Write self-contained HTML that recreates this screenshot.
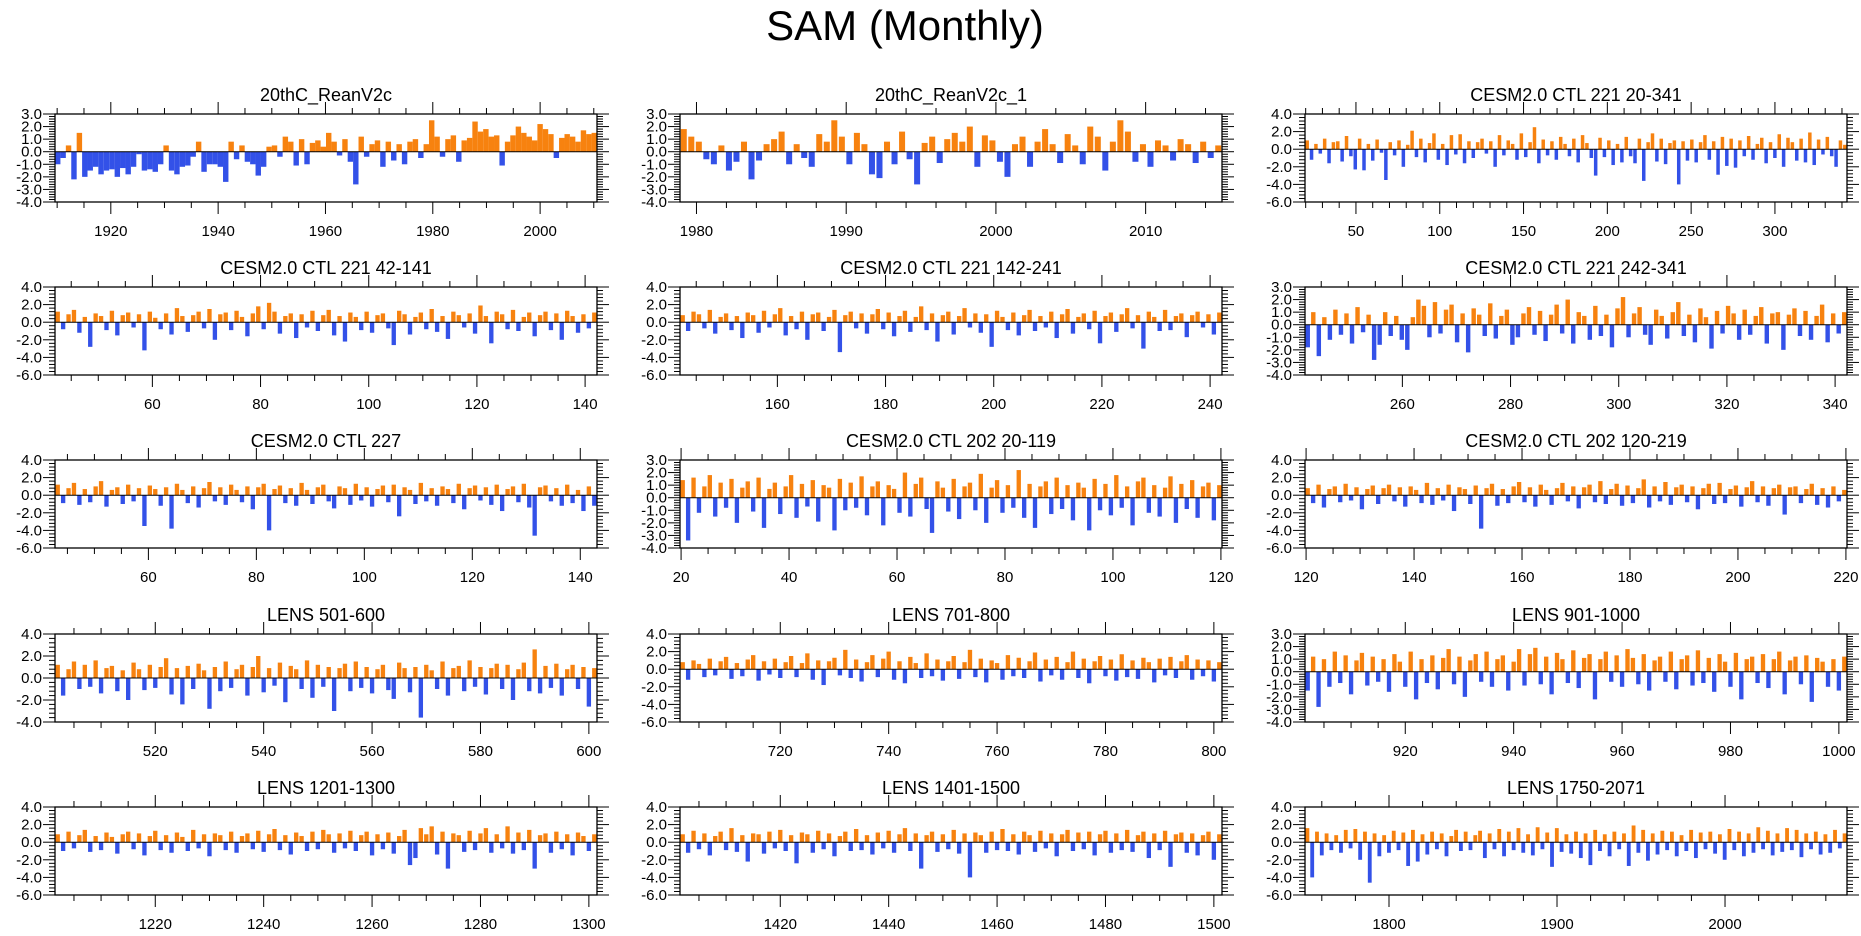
<!DOCTYPE html>
<html><head><meta charset="utf-8">
<style>
html,body{margin:0;padding:0;background:#fff;}
svg{display:block;font-family:"Liberation Sans",sans-serif;}
</style></head>
<body>
<svg id="fig" width="1861" height="936" viewBox="0 0 1861 936" xmlns="http://www.w3.org/2000/svg">
<text x="905" y="40" font-size="42" text-anchor="middle">SAM (Monthly)</text>
</svg>
<script>
const titles = ["20thC_ReanV2c","20thC_ReanV2c_1","CESM2.0 CTL 221 20-341","CESM2.0 CTL 221 42-141","CESM2.0 CTL 221 142-241","CESM2.0 CTL 221 242-341","CESM2.0 CTL 227","CESM2.0 CTL 202 20-119","CESM2.0 CTL 202 120-219","LENS 501-600","LENS 701-800","LENS 901-1000","LENS 1201-1300","LENS 1401-1500","LENS 1750-2071"];
const xRanges = [[1909.6,2010.6],[1978.9,2015.1],[19.6,343],[42,142.2],[142,242.2],[242,342.2],[42.7,143.1],[19.8,120.2],[119.8,220.2],[501.5,601.5],[701.5,801.5],[901.5,1001.5],[1201.5,1301.5],[1401.5,1501.5],[1750,2072.6]];
const yRanges = [[-4,3,1],[-4,3,1],[-6,4,2],[-6,4,2],[-6,4,2],[-4,3,1],[-6,4,2],[-4,3,1],[-6,4,2],[-4,4,2],[-6,4,2],[-4,3,1],[-6,4,2],[-6,4,2],[-6,4,2]];
const xTicks = [[20,5],[10,2],[50,10],[20,5],[20,5],[20,5],[20,5],[20,5],[20,5],[20,5],[20,5],[20,5],[20,5],[20,5],[100,20]];

const p1 = [-1.0,-0.5,0.5,-2.2,1.5,-2.0,-1.5,-1.2,-1.8,-1.5,-1.4,-2.0,-1.3,-1.8,-1.2,-0.2,-1.5,-1.4,-1.6,-1.0,0.5,-1.5,-1.8,-1.2,-1.1,-0.4,0.8,-1.6,-1.0,-1.0,-1.2,-2.4,0.8,-0.6,0.5,-0.8,-1.0,-1.9,-1.2,0.4,0.5,-0.4,1.2,0.8,-1.1,1.0,-1.0,0.7,0.9,0.4,1.5,0.8,-0.3,1.0,-0.8,-2.6,1.2,-0.4,0.6,0.9,-1.2,0.8,-0.7,0.6,-1.0,0.8,1.0,-0.5,0.6,2.5,1.2,-0.4,1.0,1.3,-0.8,0.9,1.1,2.4,1.6,1.8,1.2,1.3,-1.1,0.8,1.3,2.0,1.5,1.2,0.9,2.2,1.8,1.4,-0.5,1.1,1.4,1.2,0.8,1.7,1.4,1.5];
const p2 = [1.8,1.2,0.8,-0.6,-1.0,0.5,-1.5,-0.8,0.8,-2.2,-0.7,0.6,1.0,1.6,-1.0,0.6,-0.5,-1.2,1.4,0.8,2.5,1.2,-1.0,1.5,0.6,-1.8,-2.1,0.8,-1.0,1.6,-0.6,-2.6,0.7,1.2,-0.9,1.0,1.5,0.8,2.0,-1.2,1.3,0.9,-0.8,-2.0,0.6,1.2,-1.2,0.8,1.8,0.6,-0.9,1.4,0.5,-1.0,2.0,1.2,-1.5,0.8,2.5,1.6,-0.8,0.6,-1.2,0.9,0.5,-0.7,1.0,0.6,-0.9,0.8,-0.5,0.5];
const p3 = [1.0,-1.2,0.6,-0.5,1.2,-1.6,0.8,0.9,-1.4,1.5,-0.8,-2.3,1.2,-2.4,0.6,-1.3,1.1,-0.4,-3.5,0.8,-0.7,1.0,-2.0,0.5,2.1,-0.9,1.2,-1.5,0.7,1.8,-1.2,0.6,-1.8,1.6,-0.6,1.7,-1.6,0.9,-1.0,0.8,1.2,-0.5,0.9,-2.0,1.6,-0.7,1.0,0.6,-1.2,1.8,-0.9,0.8,2.5,-1.6,1.1,-0.7,0.9,-1.2,1.4,0.6,-0.8,1.2,-1.5,1.6,0.7,-1.0,-3.0,1.3,-0.9,1.0,-1.8,0.6,-1.5,1.4,-0.8,-1.6,1.2,-3.6,0.8,1.8,-1.4,1.2,-1.7,0.7,1.0,-4.0,0.9,-1.3,1.1,-1.5,0.8,1.6,-1.2,0.9,-2.9,1.4,-1.9,1.2,-2.1,1.0,-0.8,1.5,-1.2,0.6,1.3,-1.6,0.8,-1.0,1.7,-2.0,1.3,0.8,-1.3,1.2,-1.5,1.9,-1.8,1.1,-0.6,1.4,-0.8,-2.0,1.0,0.5];
const p4 = [1.2,-0.8,0.9,1.4,-1.2,0.6,-2.8,1.0,0.7,-0.9,1.3,-1.5,0.8,1.1,-0.6,0.9,-3.2,1.2,0.5,-0.8,1.0,-1.4,1.6,0.7,-1.1,0.8,1.2,-0.7,1.5,-2.0,0.9,1.1,-0.9,1.3,0.6,-1.6,1.0,1.8,-0.8,2.2,1.2,-1.3,0.7,1.0,-1.8,0.9,-0.6,1.3,-1.0,0.8,1.4,-1.5,0.7,-2.2,1.1,0.6,-0.9,1.2,-1.2,0.8,1.0,-0.7,-2.6,1.3,0.9,-1.4,0.6,1.1,-0.8,1.5,-1.1,0.7,-1.9,1.2,0.8,-0.6,1.0,-1.3,1.9,0.7,-2.4,1.2,0.9,-0.8,1.4,-1.0,0.6,1.1,-1.6,0.8,1.2,-0.9,1.0,-2.0,1.3,0.7,-1.2,0.9,-0.7,1.1];
const p5 = [0.8,-1.0,1.2,0.9,-0.7,1.4,-1.3,0.6,1.0,-0.9,0.7,-1.8,1.1,0.8,-1.2,1.3,-0.6,0.9,1.6,-1.5,0.7,-0.8,1.2,-2.0,0.9,1.1,-1.0,0.6,1.4,-3.4,0.8,1.2,-0.7,1.0,-1.3,0.9,1.5,-0.8,1.1,-1.6,0.7,1.3,-1.1,0.6,1.8,-0.9,1.0,-2.2,0.8,1.2,-1.4,0.7,1.6,-0.6,1.0,-1.2,0.9,-2.8,1.3,0.6,-0.9,1.1,-1.5,0.8,1.4,-1.0,0.7,-0.6,1.2,-1.8,0.9,1.5,-1.3,0.6,1.0,-0.8,1.3,-2.4,0.7,1.1,-1.1,0.9,1.6,-0.7,0.8,-3.0,1.2,0.6,-1.0,1.4,-0.9,0.7,1.0,-1.7,0.8,1.2,-0.6,0.9,-1.4,1.1];
const p6 = [-1.8,1.0,-2.5,0.6,-1.2,1.2,-0.8,0.9,-1.5,1.4,-0.6,0.8,-2.8,-1.6,1.0,-0.9,0.7,-1.2,-2.0,0.6,2.0,1.5,-1.0,1.8,-0.7,1.2,1.6,-1.4,0.9,-2.2,1.3,0.8,-0.9,1.7,-1.1,0.7,1.2,-1.6,-1.0,0.9,1.4,-0.8,1.1,-1.3,0.8,1.6,-0.7,2.0,-1.5,1.0,0.7,-1.2,1.5,-0.9,0.8,-1.8,1.3,2.2,-1.0,0.9,1.4,-0.8,-1.6,1.2,0.7,-1.1,1.0,1.8,-0.9,0.8,-1.4,1.3,0.6,-1.9,1.1,-0.7,1.5,0.9,-1.2,1.2,-0.8,0.7,1.4,-1.5,0.9,1.0,-2.0,0.8,1.3,-0.9,1.1,-1.2,0.7,1.6,-1.4,0.9,-0.7,1.0];
const p7 = [1.2,-0.9,0.8,1.4,-1.1,0.7,-0.8,1.0,1.6,-1.3,0.6,0.9,-1.0,1.2,-0.7,0.8,-3.5,1.1,0.7,-1.2,0.9,-3.8,1.3,0.6,-0.9,1.0,-1.4,0.8,1.5,-0.7,0.9,-1.1,1.2,0.6,-0.8,1.0,-1.6,0.9,1.3,-4.0,0.7,1.1,-0.9,0.8,-1.2,1.4,0.6,-1.0,0.9,1.2,-0.7,-1.5,1.0,0.8,-1.1,1.3,-0.6,0.9,-1.3,0.7,1.1,-0.8,1.2,-2.4,0.9,0.6,-1.0,1.4,-0.7,0.8,-1.2,1.0,0.7,-0.9,1.3,-1.6,0.8,1.1,-0.6,0.9,-1.1,1.2,-1.8,0.7,1.0,-0.8,1.3,-1.4,-4.6,0.9,1.1,-0.7,0.8,-1.2,1.2,-0.9,0.6,-1.8,1.0,-1.2];
const p8 = [1.4,-3.4,1.6,-1.2,0.9,1.8,-1.5,1.2,-0.8,1.5,-2.0,0.8,1.3,-1.1,1.6,-2.4,0.7,1.2,-1.3,0.9,1.8,-1.6,1.1,-0.7,1.4,-1.9,1.0,0.8,-2.6,1.5,-1.0,1.2,-0.8,1.7,-1.4,0.9,1.3,-2.2,1.0,0.7,-1.2,2.0,-1.5,1.1,1.6,-0.9,-2.8,1.3,0.8,-1.1,1.5,-1.7,0.9,1.2,-1.0,1.9,-2.0,0.8,1.4,-1.2,1.0,-0.8,2.2,-1.6,1.1,-2.4,0.9,1.3,-1.3,1.6,-0.9,1.0,-1.8,1.2,0.8,-2.6,1.5,-1.0,1.1,-1.4,1.8,-0.8,0.9,-2.2,1.3,1.6,-1.2,1.0,-1.5,0.8,1.7,-2.0,1.1,-0.9,1.4,-1.6,0.9,1.2,-1.8,1.0];
const p9 = [0.8,-0.9,1.2,-1.4,0.7,1.0,-0.8,1.3,-0.6,0.9,-1.6,0.7,1.1,-1.0,0.8,1.2,-0.7,0.9,-1.3,1.0,0.6,-0.9,1.4,-1.1,0.8,-0.6,1.2,-1.8,0.9,0.7,-1.0,1.1,-3.8,0.8,1.3,-1.2,0.7,-0.9,1.0,1.5,-0.8,0.9,-1.3,1.2,0.6,-1.1,0.8,1.4,-0.7,1.0,-1.5,0.9,1.2,-0.8,1.6,-1.0,0.7,1.3,-1.2,1.1,-0.9,0.8,1.8,-1.4,1.0,-0.7,1.5,-1.1,0.9,1.2,-0.8,1.0,-1.6,0.8,1.3,-1.0,1.4,-0.9,0.7,1.1,-1.3,0.9,1.6,-0.8,1.0,-1.2,0.8,1.2,-2.2,0.9,1.0,-0.9,0.7,1.3,-1.1,0.8,-1.4,1.0,-0.7,0.6];
const p10 = [1.2,-1.6,0.8,1.5,-1.0,1.2,-0.8,1.6,-1.4,0.9,1.1,-1.2,0.7,-2.0,1.4,0.8,-1.1,1.2,-0.9,1.0,1.8,-1.5,0.9,-2.4,1.1,-1.0,1.3,0.7,-2.8,1.0,-1.2,1.5,-0.9,0.8,1.2,-1.6,1.0,2.0,-1.3,0.9,-0.7,1.4,-2.2,1.1,0.8,-1.0,1.6,-1.8,1.2,-0.8,1.0,-3.0,0.9,1.3,-1.2,1.5,-0.9,1.0,-1.4,0.8,1.2,-1.1,-1.9,1.4,0.9,-1.3,1.0,-3.6,1.2,0.7,-1.0,1.5,-1.6,0.9,1.1,-1.2,1.6,-0.8,1.0,-1.5,0.9,1.3,-1.0,1.2,-2.0,0.8,1.4,-1.2,2.6,-1.4,1.1,-0.9,1.3,-1.6,0.8,1.2,-1.0,1.0,-2.6,0.9];
const p11 = [0.8,-1.2,1.0,0.6,-0.9,1.2,-0.7,0.9,1.4,-1.1,0.7,-0.8,1.1,1.6,-1.3,0.9,-0.6,1.2,-1.0,0.8,1.5,-0.9,0.7,1.8,-1.2,1.0,-1.8,0.9,1.3,-0.7,2.2,-1.0,1.1,-1.4,0.8,1.6,-0.9,1.2,2.0,-1.2,0.9,-1.6,1.4,0.7,-1.0,1.8,-0.8,1.1,-1.3,0.9,1.5,-1.1,0.8,2.2,-0.9,1.2,-1.5,1.0,0.7,-1.2,1.6,-0.8,1.3,-1.0,0.9,1.9,-1.4,1.1,-0.7,1.4,-1.2,0.8,2.0,-1.0,1.2,-1.6,0.9,1.5,-0.8,1.1,-1.3,1.7,-0.9,1.0,-1.1,1.3,0.8,-1.5,1.2,-0.7,1.4,-1.0,0.9,1.6,-1.2,1.1,-0.8,1.0,-1.4,0.8];
const p12 = [-1.5,1.2,-2.8,1.0,-1.2,1.6,-0.9,1.3,-1.8,0.9,1.5,-1.1,1.2,-0.8,1.0,-1.6,1.4,0.8,-1.2,1.6,-2.2,1.0,-0.9,1.3,-1.4,1.1,1.8,-1.0,1.2,-2.0,0.9,1.4,-0.8,1.6,-1.2,1.0,1.3,-1.5,0.8,1.8,-1.1,1.4,1.9,-1.0,1.2,-1.8,1.5,1.0,-0.9,1.7,-1.3,1.1,1.4,-2.2,1.0,1.6,-0.8,1.3,-1.2,1.8,1.1,-1.0,1.4,-1.5,0.9,1.2,-0.8,1.6,-1.4,1.0,1.3,-1.1,1.7,-0.9,1.1,-1.6,1.4,0.8,-1.2,1.5,-2.2,1.0,1.2,-0.9,1.4,-1.3,1.0,1.6,-1.8,0.9,1.2,-1.0,1.3,-2.4,1.1,0.8,-1.2,1.0,-1.5,1.2];
const p13 = [0.9,-1.0,1.2,-0.7,0.8,1.4,-1.1,0.7,-0.9,1.1,0.6,-1.3,0.9,1.2,-0.8,1.0,-1.5,0.7,1.3,-0.9,0.8,-1.2,1.1,0.6,-1.0,1.4,-0.7,0.9,-1.6,1.0,0.8,-0.9,1.2,-1.2,0.7,1.0,-0.8,1.3,-1.1,0.9,1.5,-0.9,0.8,-1.4,1.1,0.7,-1.0,1.2,-0.8,1.4,0.9,-1.2,1.0,-0.7,1.3,-1.0,0.8,1.2,-1.5,0.9,-0.8,1.1,-1.3,0.7,1.4,-2.6,-1.8,1.6,0.9,1.8,-1.4,1.2,-3.0,1.0,0.8,-1.1,1.3,-0.9,1.0,1.6,-1.2,0.9,-0.7,1.8,-1.3,1.1,-0.9,1.4,-3.0,0.8,1.0,-1.2,1.2,-0.8,0.9,-1.5,1.1,0.7,-1.0,0.9];
const p14 = [0.9,-1.2,1.3,-0.8,1.0,-1.5,0.7,1.2,-0.9,1.6,-1.1,0.8,-2.2,1.0,0.9,-1.3,1.2,-0.7,1.4,-1.0,0.8,-2.4,1.1,0.9,-1.2,1.3,-0.8,1.0,-1.6,0.7,1.2,-1.0,1.5,-0.9,0.8,-1.4,1.1,-0.7,1.3,-1.2,0.9,1.6,-1.0,1.0,-3.0,0.8,1.2,-1.1,0.9,-0.8,1.4,-1.3,1.0,-4.0,1.1,0.8,-1.2,1.2,-0.9,1.5,-1.0,0.9,-1.4,1.2,0.8,-1.1,1.3,-0.7,1.0,-1.6,0.9,1.4,-1.0,1.1,-0.8,1.2,-1.5,0.9,1.3,-1.2,1.0,-0.9,1.4,-1.1,0.8,1.2,-1.8,1.0,-0.9,1.3,-2.8,0.9,1.1,-1.2,1.0,-1.5,0.8,1.2,-2.0,0.9];
const p15 = [1.6,-4.0,1.2,-1.5,1.0,-0.9,0.8,-1.2,1.4,-0.7,1.5,-2.0,1.2,-4.6,1.0,-1.6,0.8,-1.2,1.3,-0.9,1.1,-2.7,1.4,-2.2,0.9,-1.4,1.2,-0.8,1.0,-1.6,0.7,1.4,-1.0,1.2,-0.9,0.8,1.3,-1.8,1.0,-0.8,1.5,-1.6,1.2,-0.9,1.6,-1.2,0.9,-1.5,1.7,-0.8,1.1,-2.8,1.6,-1.1,0.9,-1.3,1.2,-1.8,1.0,-2.6,1.4,-1.0,0.9,-1.6,1.2,-0.8,1.0,-2.7,1.9,-1.2,1.4,-2.1,1.0,-1.4,1.3,-0.9,1.2,-1.6,0.8,-1.0,1.4,-1.8,1.1,-0.8,1.2,-1.3,0.9,-2.0,1.5,-0.9,1.2,-1.6,1.0,-1.2,1.7,-0.8,1.3,-1.5,1.0,-1.1,1.6,-0.9,1.4,-1.7,1.0,-0.8,1.2,-1.4,0.9,-1.2,1.4,-0.7,1.0];
const series = [p1,p2,p3,p4,p5,p6,p7,p8,p9,p10,p11,p12,p13,p14,p15];

const svg = document.getElementById('fig');
const NS = 'http://www.w3.org/2000/svg';
const colLeft = [55,680,1305], PW = 542, PH = 88;
const rowTop = [114,287,460,634,807];
function mk(tag, attrs, parent){const e=document.createElementNS(NS,tag);for(const k in attrs)e.setAttribute(k,attrs[k]);(parent||svg).appendChild(e);return e;}
function fmt(v){return v.toFixed(1);}

for(let p=0;p<15;p++){
  const L = colLeft[p%3], T = rowTop[Math.floor(p/3)];
  const [x0,x1] = xRanges[p]; const [y0,y1,ys] = yRanges[p];
  const xs = v => L + (v-x0)/(x1-x0)*PW;
  const yS = v => T + (y1-v)/(y1-y0)*PH;
  const g = mk('g',{});
  
  
  const t = mk('text',{x:L+PW/2,y:T-13,'font-size':18,'text-anchor':'middle'},g);
  
  
  t.textContent = titles[p];
  const vals = series[p]; const n = vals.length; const step=(x1-x0)/n;
  const bw = (PW/n)*(p===0?1.0:0.8);
  const barsG = mk('g',{},g);
  
  
  vals.forEach((v,i)=>{
    const cx = xs(x0+(i+0.5)*step);
    const ya = yS(Math.max(v,0)), yb = yS(Math.min(v,0));
    const r = mk('rect',{x:(cx-bw/2).toFixed(2),y:ya.toFixed(2),width:bw.toFixed(2),height:Math.max(0.5,yb-ya).toFixed(2),fill:v>=0?'#F7820F':'#3351E8'},barsG);
    
    
  });
  const z = mk('line',{x1:L,x2:L+PW,y1:yS(0),y2:yS(0),stroke:'#000','stroke-width':1},g);
  
  
  const fr = mk('rect',{x:L,y:T,width:PW,height:PH,fill:'none',stroke:'#000','stroke-width':1.3},g);
  
  
  const sub = ys/5;
  for(let k=0; y0+k*sub<=y1+1e-9; k++){
    const v=y0+k*sub, yy=yS(v), major=(k%5===0), len=major?12:6;
    mk('line',{x1:L-len,x2:L,y1:yy,y2:yy,stroke:'#000','stroke-width':1},g);
    mk('line',{x1:L+PW,x2:L+PW+len,y1:yy,y2:yy,stroke:'#000','stroke-width':1},g);
    if(major){
      const lb = mk('text',{x:L-13,y:yy+5,'font-size':15,'text-anchor':'end'},g);
      
      
      lb.textContent = fmt(v);
    }
  }
  const [maj,mn] = xTicks[p];
  for(let v=Math.ceil(x0/mn)*mn; v<=x1; v+=mn){
    const xx=xs(v), major=(Math.round(v)%maj===0), len=major?12:6;
    mk('line',{x1:xx,x2:xx,y1:T+PH,y2:T+PH+len,stroke:'#000','stroke-width':1},g);
    mk('line',{x1:xx,x2:xx,y1:T-len,y2:T,stroke:'#000','stroke-width':1},g);
    if(major){
      const lb = mk('text',{x:xx,y:T+PH+34,'font-size':15,'text-anchor':'middle'},g);
      
      
      lb.textContent = String(Math.round(v));
    }
  }
}
</script>
</body></html>
